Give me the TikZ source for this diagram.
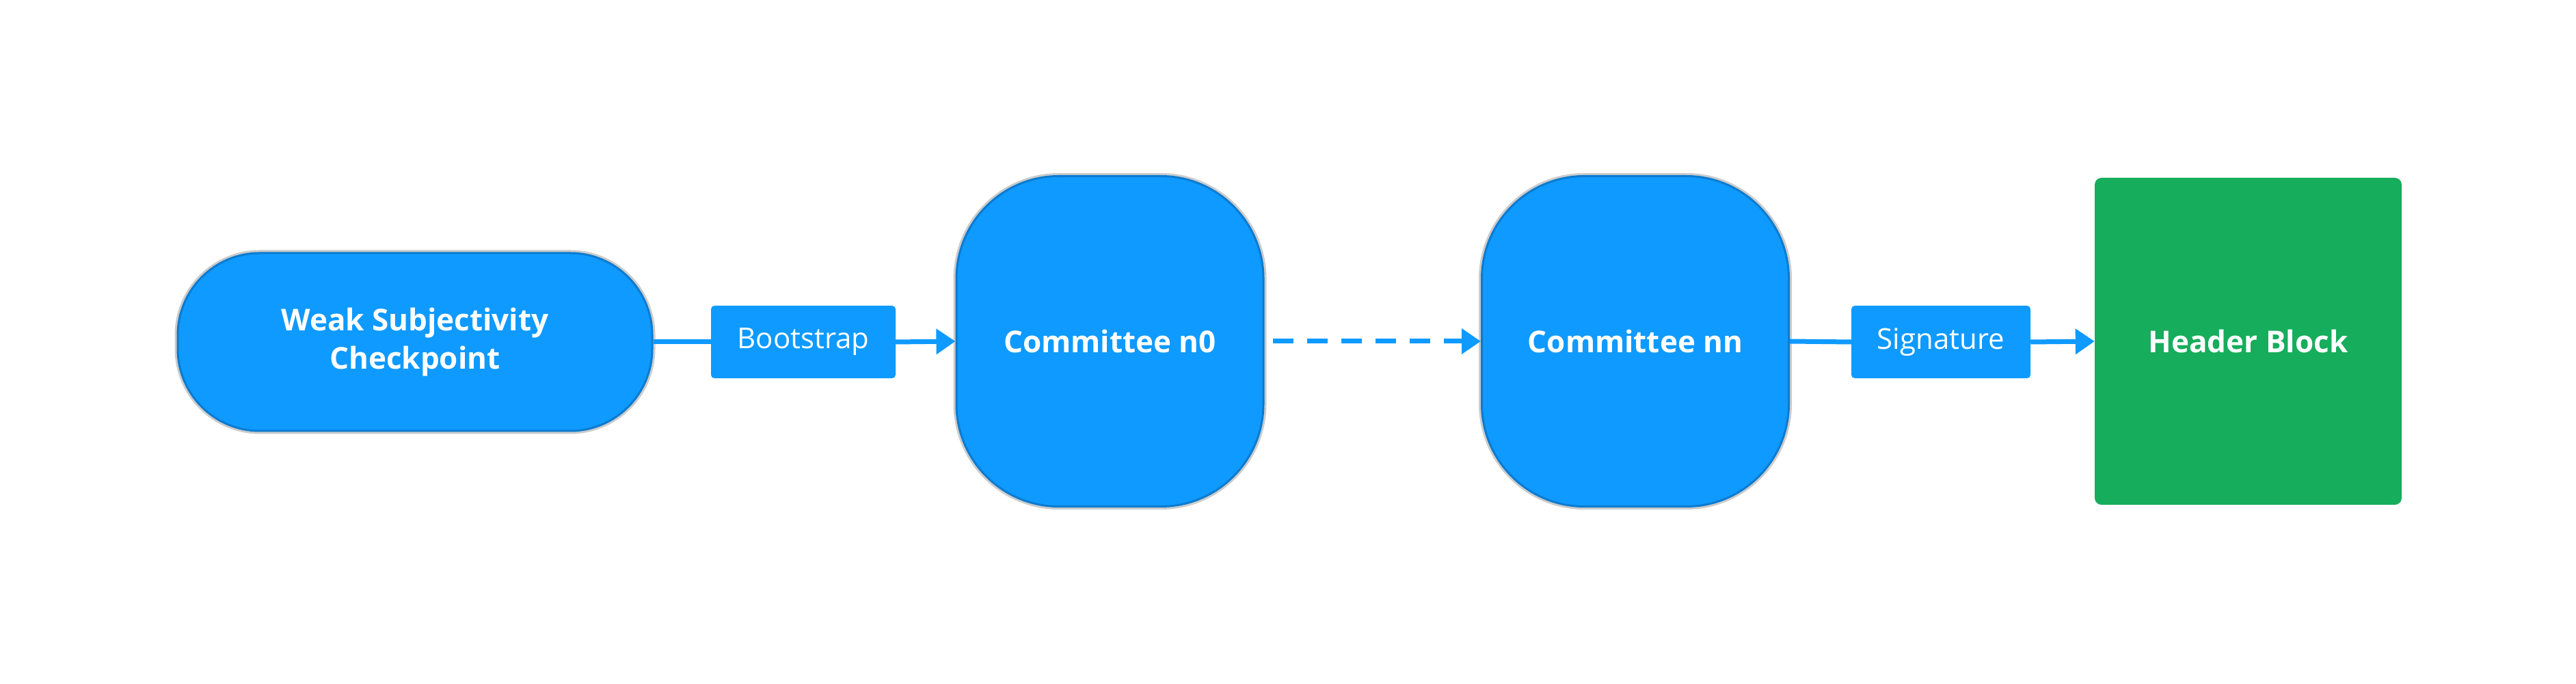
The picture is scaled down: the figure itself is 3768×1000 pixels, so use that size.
\documentclass[tikz,border=0pt]{standalone}
\usepackage{fontspec}
\setmainfont{Open Sans}
\usetikzlibrary{arrows.meta}
\definecolor{bl}{HTML}{0F9AFF}
\definecolor{bld}{HTML}{0B7BD0}
\definecolor{gr}{HTML}{16AD5C}
\begin{document}
\begin{tikzpicture}[x=1pt,y=1pt,
  blob/.style={draw=bld,line width=3pt,fill=bl,text=white,font=\fontsize{44}{56}\selectfont\bfseries,align=center,
    preaction={draw=black!20,line width=9pt}},
  lbl/.style={fill=bl,rounded corners=5pt,text=white,font=\fontsize{42}{50}\selectfont,minimum height=106pt,inner sep=0pt},
  conn/.style={draw=bl,line width=7pt,-{Triangle[length=28pt,width=36pt]}}]
\useasboundingbox (0,0) rectangle (3768,1000);
\node[blob,rounded corners=120pt,minimum width=694pt,minimum height=260pt] (wsc) at (607,500) {Weak Subjectivity\\Checkpoint};
\node[blob,rounded corners=150pt,minimum width=449pt,minimum height=483pt] (n0) at (1623.5,501) {Committee n0};
\node[blob,rounded corners=150pt,minimum width=449pt,minimum height=483pt] (nn) at (2392,501) {Committee nn};
\node[fill=gr,rounded corners=10pt,minimum width=449pt,minimum height=478pt,text=white,font=\fontsize{44}{56}\selectfont\bfseries] (hb) at (3288.5,501) {Header Block};
\node[lbl,minimum width=270pt] (bs) at (1175,500) {Bootstrap};
\node[lbl,minimum width=262pt] (sg) at (2839,500) {Signature};
\draw[draw=bl,line width=7pt] (wsc.east) -- (bs.west);
\draw[conn] (bs.east) -- (n0.west);
\draw[conn,dash pattern=on 30pt off 20pt] (n0.east) ++(12pt,0) coordinate (d0) (d0) -- (nn.west);
\draw[draw=bl,line width=7pt] (nn.east) -- (sg.west);
\draw[conn] (sg.east) -- (hb.west);
\end{tikzpicture}
\end{document}
